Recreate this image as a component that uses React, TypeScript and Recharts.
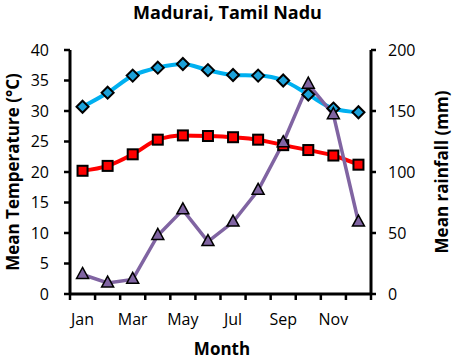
import React from 'react';
import { LineChart, Line, XAxis, YAxis } from 'recharts';

const months = ['Jan', 'Feb', 'Mar', 'Apr', 'May', 'Jun', 'Jul', 'Aug', 'Sep', 'Oct', 'Nov', 'Dec'];
const maxTemp = [30.7, 33.0, 35.8, 37.1, 37.7, 36.7, 35.9, 35.8, 35.0, 32.7, 30.4, 29.8];
const meanTemp = [20.2, 21.0, 22.9, 25.3, 26.0, 25.9, 25.7, 25.3, 24.4, 23.6, 22.7, 21.2];
const rainfall = [16, 9, 12, 48, 69, 43, 59, 85, 124, 172, 147, 59];
const tempTicks = [0, 5, 10, 15, 20, 25, 30, 35, 40];
const rainTicks = [0, 50, 100, 150, 200];

const W = 455;
const H = 359;
const LEFT_W = 70;
const RIGHT_W = 84;
const FONT = '"Open Sans", sans-serif';

// tick marks sit on the boundaries between months
const boundaryTicks = months.map((_, i) => i + 0.5).concat([12.5]);
const halfBand = (W - LEFT_W - RIGHT_W) / 12 / 2;

const data = months.map((name, i) => ({
  m: i + 1,
  name,
  maxTemp: maxTemp[i],
  meanTemp: meanTemp[i],
  rain: rainfall[i],
}));

const MonthTick = (props: any) => {
  const { x, y, payload } = props;
  const idx = payload.value + 0.5; // month number to the right of this boundary
  if (idx > 12 || idx % 2 === 0) return <g />;
  return (
    <text x={x + halfBand} y={y} dy="0.71em" textAnchor="middle" fontSize={16} fontFamily={FONT} fill="#000">
      {months[idx - 1]}
    </text>
  );
};

const Diamond = (props: any) => {
  const { cx, cy } = props;
  const r = 6;
  return (
    <polygon
      points={`${cx},${cy - r} ${cx + r},${cy} ${cx},${cy + r} ${cx - r},${cy}`}
      fill="#1BA1D9"
      stroke="#000"
      strokeWidth={2}
    />
  );
};

const Square = (props: any) => {
  const { cx, cy } = props;
  return <rect x={cx - 5} y={cy - 5} width={10} height={10} fill="#FF0000" stroke="#000" strokeWidth={2} />;
};

const Triangle = (props: any) => {
  const { cx, cy } = props;
  return (
    <polygon
      points={`${cx},${cy - 7} ${cx + 6},${cy + 4} ${cx - 6},${cy + 4}`}
      fill="#8064A2"
      stroke="#000"
      strokeWidth={1.5}
    />
  );
};

const tickStyle = { fontSize: 16, fontFamily: FONT, fill: '#000' };
const axisLine = { stroke: '#000', strokeWidth: 3 };
const tickLine = { stroke: '#000', strokeWidth: 2.5 };

export default function App() {
  return (
    <div style={{ position: 'absolute', left: 0, top: 0, width: W, height: H, background: '#fff', fontFamily: FONT }}>
      <div
        style={{
          position: 'absolute',
          left: 0,
          top: 0,
          width: W,
          textAlign: 'center',
          fontSize: 18,
          fontWeight: 700,
          color: '#000',
        }}
      >
        Madurai, Tamil Nadu
      </div>
      <LineChart width={W} height={H} data={data} margin={{ top: 50, right: 0, bottom: 0, left: 0 }}>
        <XAxis
          dataKey="m"
          type="number"
          domain={[0.5, 12.5]}
          ticks={boundaryTicks}
          interval={0}
          height={65}
          tickSize={6}
          tickMargin={14}
          tick={<MonthTick />}
          axisLine={axisLine}
          tickLine={tickLine}
          label={() => (
            <text x={222} y={355} textAnchor="middle" fontSize={17} fontWeight={700} fontFamily={FONT} fill="#000">
              Month
            </text>
          )}
        />
        <YAxis
          yAxisId="t"
          orientation="left"
          width={LEFT_W}
          domain={[0, 40]}
          ticks={tempTicks}
          interval={0}
          tickSize={6}
          tickMargin={15}
          tick={tickStyle}
          axisLine={axisLine}
          tickLine={tickLine}
          label={() => (
            <text
              x={12}
              y={172}
              transform="rotate(-90 12 172)"
              textAnchor="middle"
              dominantBaseline="central"
              fontSize={17}
              fontWeight={700}
              fontFamily={FONT}
              fill="#000"
            >
              Mean Temperature (°C)
            </text>
          )}
        />
        <YAxis
          yAxisId="r"
          orientation="right"
          width={RIGHT_W}
          domain={[0, 200]}
          ticks={rainTicks}
          interval={0}
          tickSize={5}
          tickMargin={12}
          tick={tickStyle}
          axisLine={axisLine}
          tickLine={tickLine}
          label={() => (
            <text
              x={441}
              y={172}
              transform="rotate(-90 441 172)"
              textAnchor="middle"
              dominantBaseline="central"
              fontSize={17}
              fontWeight={700}
              fontFamily={FONT}
              fill="#000"
            >
              Mean rainfall (mm)
            </text>
          )}
        />
        <Line
          yAxisId="t"
          dataKey="maxTemp"
          type="monotone"
          stroke="#00B0F0"
          strokeWidth={4}
          dot={(p: any) => <Diamond key={`d-${p.index}`} {...p} />}
          isAnimationActive={false}
        />
        <Line
          yAxisId="t"
          dataKey="meanTemp"
          type="monotone"
          stroke="#FF0000"
          strokeWidth={4}
          dot={(p: any) => <Square key={`s-${p.index}`} {...p} />}
          isAnimationActive={false}
        />
        <Line
          yAxisId="r"
          dataKey="rain"
          type="linear"
          stroke="#8064A2"
          strokeWidth={3.5}
          dot={(p: any) => <Triangle key={`t-${p.index}`} {...p} />}
          isAnimationActive={false}
        />
      </LineChart>
    </div>
  );
}
